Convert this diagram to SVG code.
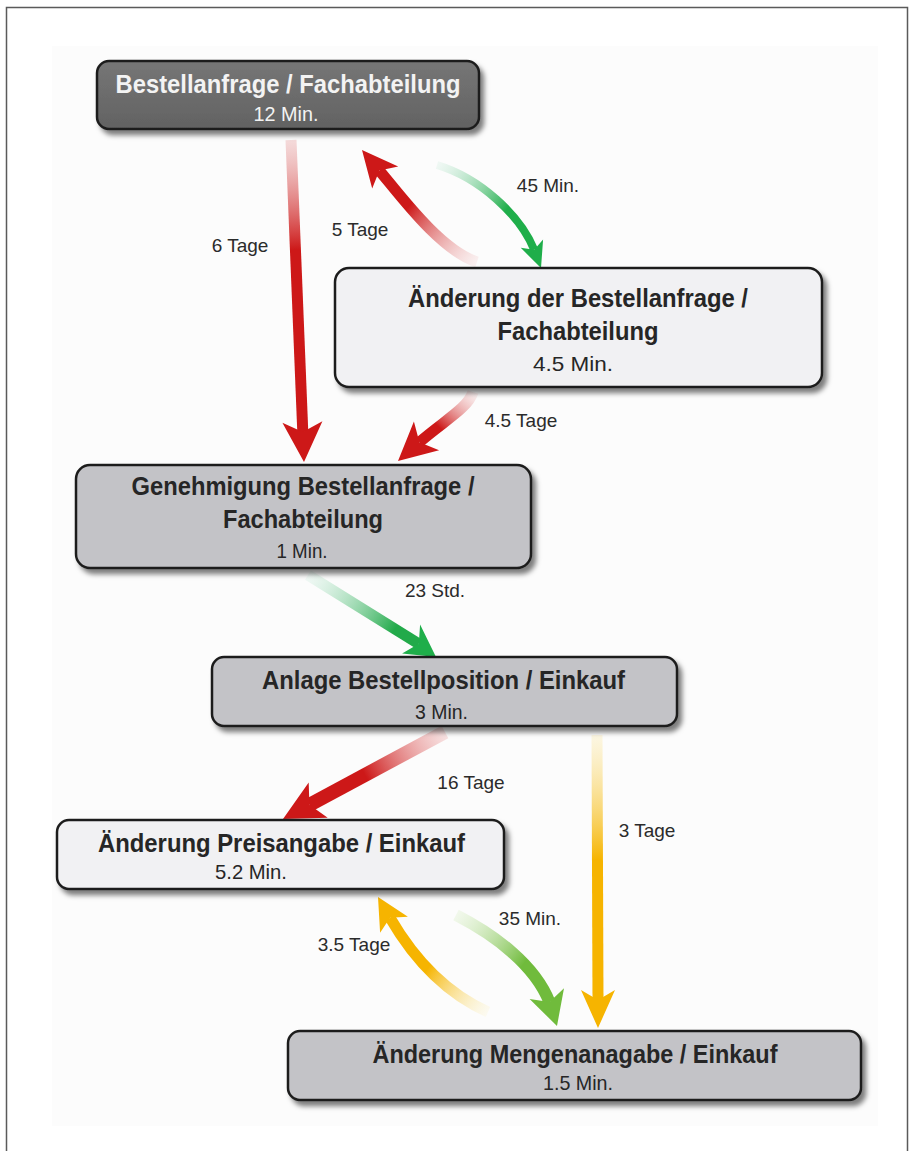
<svg xmlns="http://www.w3.org/2000/svg" width="914" height="1151" viewBox="0 0 914 1151">
<style>
.box{stroke:#1e1e1e;stroke-width:2.5;filter:url(#sh)}
.dark{fill:url(#gDark)}
.mid{fill:#c3c3c7}
.light{fill:#f1f1f3}
.t{font-family:"Liberation Sans",Arial,sans-serif;font-weight:bold;font-size:25px;text-anchor:middle;fill:#262626}
.m{font-family:"Liberation Sans",Arial,sans-serif;font-size:21px;text-anchor:middle;fill:#262626}
.w{fill:#f3f3f3}
.lbl{font-family:"Liberation Sans",Arial,sans-serif;font-size:19px;text-anchor:middle;fill:#2b2b2b}
.sh{fill:none;stroke-linecap:butt}
.red{fill:#cd1818}
.grn{fill:#1fae4a}
.grn2{fill:#70bb3c}
.yel{fill:#f6b400}
</style>
<defs>
<filter id="sh" x="-10%" y="-20%" width="125%" height="150%">
<feDropShadow dx="4" dy="5" stdDeviation="2.5" flood-color="#000" flood-opacity="0.5"/>
</filter>
<linearGradient id="gDark" x1="0" y1="0" x2="0" y2="1">
<stop offset="0" stop-color="#767676"/><stop offset="1" stop-color="#626262"/>
</linearGradient>
<linearGradient id="gA" gradientUnits="userSpaceOnUse" x1="291" y1="140" x2="296" y2="250">
<stop offset="0" stop-color="#e9a9a9" stop-opacity="0.4"/><stop offset="1" stop-color="#cd1818"/>
</linearGradient>
<linearGradient id="gB" gradientUnits="userSpaceOnUse" x1="477" y1="262" x2="410" y2="205">
<stop offset="0" stop-color="#f0c0c0" stop-opacity="0.2"/><stop offset="1" stop-color="#cd1818"/>
</linearGradient>
<linearGradient id="gC" gradientUnits="userSpaceOnUse" x1="437" y1="165" x2="505" y2="212">
<stop offset="0" stop-color="#bfe8d4" stop-opacity="0.2"/><stop offset="1" stop-color="#1fae4a"/>
</linearGradient>
<linearGradient id="gD" gradientUnits="userSpaceOnUse" x1="473" y1="392" x2="440" y2="428">
<stop offset="0" stop-color="#f0c0c0" stop-opacity="0.25"/><stop offset="1" stop-color="#cd1818"/>
</linearGradient>
<linearGradient id="gE" gradientUnits="userSpaceOnUse" x1="308" y1="575" x2="395" y2="629">
<stop offset="0" stop-color="#cfeee0" stop-opacity="0.25"/><stop offset="1" stop-color="#22aa4a"/>
</linearGradient>
<linearGradient id="gF" gradientUnits="userSpaceOnUse" x1="445" y1="732" x2="365" y2="775">
<stop offset="0" stop-color="#eeb0b0" stop-opacity="0.35"/><stop offset="1" stop-color="#cd1818"/>
</linearGradient>
<linearGradient id="gG" gradientUnits="userSpaceOnUse" x1="597" y1="735" x2="597" y2="860">
<stop offset="0" stop-color="#fbe9a6" stop-opacity="0.3"/><stop offset="1" stop-color="#f6b400"/>
</linearGradient>
<linearGradient id="gH" gradientUnits="userSpaceOnUse" x1="488" y1="1012" x2="428" y2="968">
<stop offset="0" stop-color="#fbf1c0" stop-opacity="0.2"/><stop offset="1" stop-color="#f6b400"/>
</linearGradient>
<linearGradient id="gI" gradientUnits="userSpaceOnUse" x1="456" y1="915" x2="522" y2="966">
<stop offset="0" stop-color="#d9efc5" stop-opacity="0.3"/><stop offset="1" stop-color="#70bb3c"/>
</linearGradient>
</defs>
<rect x="0" y="0" width="914" height="1151" fill="#ffffff"/>
<rect x="52" y="46" width="826" height="1080" fill="#fcfcfc"/>
<rect x="6.5" y="7.5" width="901" height="1160" fill="none" stroke="#5a5a5a" stroke-width="1.5"/>

<g id="connectors">
<g id="c-6tage">
<path class="sh" d="M291,140 L302.8,432" stroke="url(#gA)" stroke-width="11"/>
<polygon class="red" points="304,462 322.4,421.2 302.8,432 282.4,422.8"/>
<text class="lbl" x="240" y="252">6 Tage</text>
</g>
<g id="c-5tage">
<path class="sh" d="M477,262 C440,250 398.8,193.5 379.4,170.6" stroke="url(#gB)" stroke-width="11"/>
<polygon class="red" points="362,150 398.2,166.5 379.4,170.6 372.2,188.5"/>
<text class="lbl" x="360" y="236">5 Tage</text>
</g>
<g id="c-45min">
<path class="sh" d="M437,165 C480,178 520,215 534.2,249.7" stroke="url(#gC)" stroke-width="8"/>
<polygon class="grn" points="541,268 543.1,239.4 534.2,249.7 520.7,247.8"/>
<text class="lbl" x="548" y="192">45 Min.</text>
</g>
<g id="c-45tage">
<path class="sh" d="M473,392 C468,408 445,420 419.4,442.2" stroke="url(#gD)" stroke-width="11"/>
<polygon class="red" points="398,461 439.1,450.2 419.4,442.2 413.9,421.6"/>
<text class="lbl" x="521" y="427">4.5 Tage</text>
</g>
<g id="c-23std">
<path class="sh" d="M308,575 L418.8,643.8" stroke="url(#gE)" stroke-width="11"/>
<polygon class="grn" points="436,657 420.1,624.6 418.8,643.8 402.1,653.4"/>
<text class="lbl" x="435" y="597">23 Std.</text>
</g>
<g id="c-16tage">
<path class="sh" d="M445,732 L309.4,804.8" stroke="url(#gF)" stroke-width="14"/>
<polygon class="red" points="283,819 327.7,817.7 309.4,804.8 308.7,782.5"/>
<text class="lbl" x="471" y="789">16 Tage</text>
</g>
<g id="c-3tage">
<path class="sh" d="M597,735 L598,1000" stroke="url(#gG)" stroke-width="11"/>
<polygon class="yel" points="598,1028 615,990 598,1000 581,990"/>
<text class="lbl" x="647" y="837">3 Tage</text>
</g>
<g id="c-35tage">
<path class="sh" d="M488,1012 C450,995 418,966 390,917.8" stroke="url(#gH)" stroke-width="11"/>
<polygon class="yel" points="378,897 407.9,916.7 390,917.8 380.1,932.7"/>
<text class="lbl" x="354" y="951">3.5 Tage</text>
</g>
<g id="c-35min">
<path class="sh" d="M456,915 C495,935 535,965 549.5,1002.1" stroke="url(#gI)" stroke-width="12"/>
<polygon class="grn2" points="557,1026 564,988.2 549.5,1002.1 529.6,999"/>
<text class="lbl" x="530" y="925">35 Min.</text>
</g>
</g>

<g id="n1">
<rect class="box dark" x="97" y="61" width="382" height="68" rx="12"/>
<text class="t w" x="288" y="93" textLength="345" lengthAdjust="spacingAndGlyphs">Bestellanfrage / Fachabteilung</text>
<text class="m w" x="286" y="121" textLength="65" lengthAdjust="spacingAndGlyphs">12 Min.</text>
</g>
<g id="n2">
<rect class="box light" x="335" y="268" width="487" height="119" rx="14"/>
<text class="t" x="578" y="307" textLength="340" lengthAdjust="spacingAndGlyphs">Änderung der Bestellanfrage /</text>
<text class="t" x="578" y="340" textLength="161" lengthAdjust="spacingAndGlyphs">Fachabteilung</text>
<text class="m" x="573" y="371" textLength="80" lengthAdjust="spacingAndGlyphs">4.5 Min.</text>
</g>
<g id="n3">
<rect class="box mid" x="76" y="465" width="455" height="103" rx="14"/>
<text class="t" x="303" y="495" textLength="343" lengthAdjust="spacingAndGlyphs">Genehmigung Bestellanfrage /</text>
<text class="t" x="303" y="528" textLength="160" lengthAdjust="spacingAndGlyphs">Fachabteilung</text>
<text class="m" x="302" y="558" textLength="51" lengthAdjust="spacingAndGlyphs">1 Min.</text>
</g>
<g id="n4">
<rect class="box mid" x="212" y="657" width="465" height="69" rx="12"/>
<text class="t" x="443.5" y="689" textLength="363" lengthAdjust="spacingAndGlyphs">Anlage Bestellposition / Einkauf</text>
<text class="m" x="441.5" y="719" textLength="53" lengthAdjust="spacingAndGlyphs">3 Min.</text>
</g>
<g id="n5">
<rect class="box light" x="57" y="820" width="447" height="69" rx="12"/>
<text class="t" x="281.5" y="852" textLength="367" lengthAdjust="spacingAndGlyphs">Änderung Preisangabe / Einkauf</text>
<text class="m" x="251" y="879" textLength="72" lengthAdjust="spacingAndGlyphs">5.2 Min.</text>
</g>
<g id="n6">
<rect class="box mid" x="288" y="1031" width="573" height="69" rx="12"/>
<text class="t" x="575" y="1063" textLength="405" lengthAdjust="spacingAndGlyphs">Änderung Mengenanagabe / Einkauf</text>
<text class="m" x="578" y="1090" textLength="70" lengthAdjust="spacingAndGlyphs">1.5 Min.</text>
</g>
</svg>
